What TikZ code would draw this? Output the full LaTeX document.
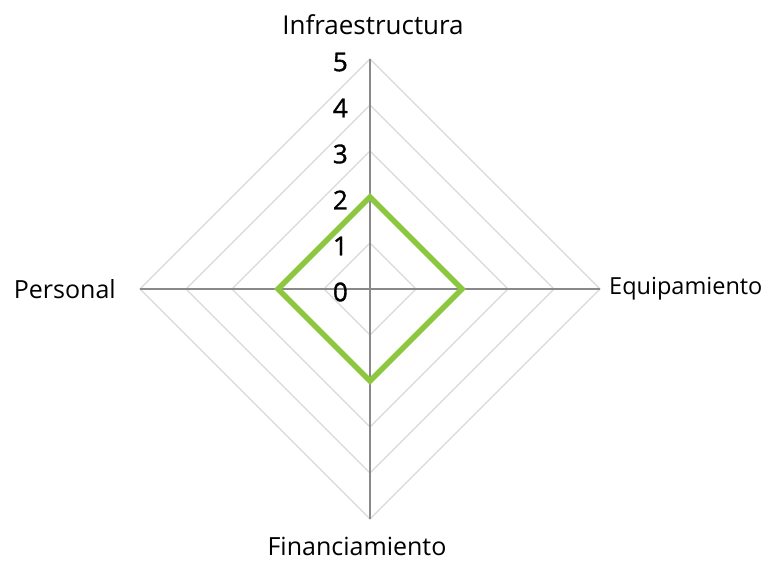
\documentclass[tikz,border=0pt]{standalone}
\usepackage{fontspec}
\setmainfont{Open Sans}
\newfontfamily\numfont[FakeBold=1.2]{Open Sans}
\usepackage{tikz}
\usetikzlibrary{positioning, calc}
\definecolor{gridgray}{HTML}{D9D9D9}
\definecolor{axisgray}{HTML}{898989}
\definecolor{seriesgreen}{HTML}{8DC63F}
\tikzset{
    ring/.style={draw=gridgray, line width=1.3pt},
    spoke/.style={draw=axisgray, line width=2pt},
    series/.style={draw=seriesgreen, line width=5.5pt, line join=miter},
    axislabel/.style={font=\fontsize{25}{28}\selectfont, text=black, inner sep=0pt},
    ticklabel/.style={font=\numfont\fontsize{26}{30}\selectfont, text=black, anchor=east, inner sep=0pt}
}

\begin{document}
\begin{tikzpicture}[x=1pt, y=-1pt]
            \useasboundingbox (0,0) rectangle (776,561);
            \coordinate (c) at (370,289);

            % grid rings
            \foreach \r in {1,...,5} {
                \draw[ring] ($(c)+(0,-46*\r)$) -- ($(c)+(46*\r,0)$) -- ($(c)+(0,46*\r)$) -- ($(c)+(-46*\r,0)$) -- cycle;
            }

            % axis ends
            \coordinate (top) at ($(c)+(0,-230)$);
            \coordinate (right) at ($(c)+(230,0)$);
            \coordinate (bottom) at ($(c)+(0,230)$);
            \coordinate (left) at ($(c)+(-230,0)$);

            \draw[spoke] (c) -- (top);
            \draw[spoke] (c) -- (right);
            \draw[spoke] (c) -- (bottom);
            \draw[spoke] (c) -- (left);

            % data
            \coordinate (d1) at ($(c)+(0,-92)$);
            \coordinate (d2) at ($(c)+(92,0)$);
            \coordinate (d3) at ($(c)+(0,92)$);
            \coordinate (d4) at ($(c)+(-92,0)$);
            \draw[series] (d1) -- (d2) -- (d3) -- (d4) -- cycle;

            % scale
            \foreach \v in {0,...,5} {
                \node[ticklabel] (tick\v) at (348,{289-46*\v+3}) {\v};
            }

            \node[axislabel, font=\fontsize{26}{30}\selectfont] (infra) at (373,25) {Infraestructura};
            \node[axislabel, anchor=east] (pers) at (116,289) {Personal};
            \node[axislabel, anchor=west, font=\fontsize{23.5}{28}\selectfont] (equip) at (609,289) {Equipamiento};
            \node[axislabel] (finan) at (357,546) {Financiamiento};
        \end{tikzpicture}
\end{document}
